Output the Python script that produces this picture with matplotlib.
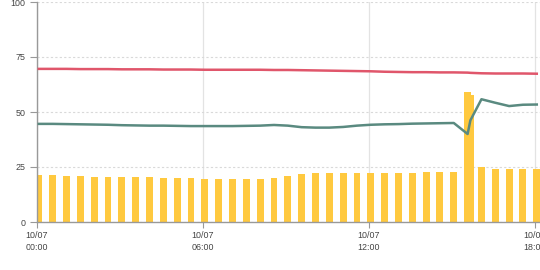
import matplotlib
matplotlib.use("Agg")
import matplotlib.pyplot as plt
import matplotlib.dates as mdates
import pandas as pd

# half-hourly samples, plus one extra reading at 15:40
times = list(pd.date_range("2023-10-07 00:04", periods=32, freq="30min"))
times += [pd.Timestamp("2023-10-07 15:40")]
times += list(pd.date_range("2023-10-07 16:04", periods=5, freq="30min"))

bar_vals = [
    21.5, 21.5, 21.1, 21.1, 20.6, 20.6, 20.3, 20.3, 20.3, 20.0, 20.0, 20.0,
    19.7, 19.7, 19.7, 19.7, 19.7, 20.1, 20.7, 21.7, 22.4, 22.4, 22.4, 22.4,
    22.4, 22.4, 22.4, 22.4, 22.8, 22.8, 22.8, 59.0, 57.7,
    24.8, 23.9, 23.9, 23.9, 23.9,
]
red_vals = [
    69.6, 69.6, 69.6, 69.5, 69.5, 69.5, 69.4, 69.4, 69.4, 69.3, 69.3, 69.3,
    69.2, 69.2, 69.2, 69.2, 69.2, 69.1, 69.1, 69.0, 68.9, 68.8, 68.7, 68.6,
    68.5, 68.3, 68.2, 68.1, 68.1, 68.0, 68.0, 67.9, 67.8,
    67.6, 67.5, 67.5, 67.5, 67.4,
]
green_vals = [
    44.6, 44.6, 44.5, 44.4, 44.3, 44.2, 44.0, 43.9, 43.8, 43.8, 43.7, 43.6,
    43.6, 43.6, 43.6, 43.7, 43.8, 44.1, 43.8, 43.1, 42.9, 42.9, 43.2, 43.8,
    44.2, 44.4, 44.5, 44.7, 44.8, 44.9, 45.0, 40.0, 46.2,
    55.8, 54.2, 52.7, 53.3, 53.4,
]
y_ticks = [0, 25, 50, 75, 100]

BAR = "#ffc93f"
RED = "#e0566b"
GREEN = "#5a8a80"
AXIS = "#999999"
LABEL = "#444444"

plt.rcParams["font.family"] = ["Liberation Sans", "DejaVu Sans"]

fig = plt.figure(figsize=(5.4, 2.7), dpi=100)
ax = fig.add_axes([37 / 540, 48 / 270, 503 / 540, 220 / 270])

# draw bars right-to-left so the 15:34 spike sits over the 15:40 one
ax.bar(times[::-1], bar_vals[::-1], width=15 / 1440, color=BAR, zorder=2)
ax.plot(times, red_vals, color=RED, lw=1.8, zorder=3, solid_joinstyle="round")
ax.plot(times, green_vals, color=GREEN, lw=1.8, zorder=3, solid_joinstyle="round")

ax.set_ylim(0, 100)
ax.set_yticks(y_ticks)
ax.set_xlim(pd.Timestamp("2023-10-07 00:00"), pd.Timestamp("2023-10-07 18:11"))
ax.xaxis.set_major_locator(mdates.HourLocator(byhour=[0, 6, 12, 18]))
ax.xaxis.set_major_formatter(mdates.DateFormatter("%m/%d\n%H:%M"))

ax.yaxis.grid(True, color="#d9d9d9", lw=0.8, ls=(0, (2, 2)), zorder=0)
ax.xaxis.grid(True, color="#e3e3e3", lw=0.9, zorder=0)
ax.set_axisbelow(True)

for s in ("top", "right"):
    ax.spines[s].set_visible(False)
for s in ("left", "bottom"):
    ax.spines[s].set_color(AXIS)
    ax.spines[s].set_linewidth(1.0)

ax.tick_params(axis="y", length=5.3, width=0.8, color=AXIS, pad=3,
               labelsize=6.4, labelcolor=LABEL)
ax.tick_params(axis="x", length=4.3, width=0.8, color=AXIS, pad=2.5,
               labelsize=6.4, labelcolor=LABEL)
for t in ax.get_xticklabels():
    t.set_linespacing(1.3)

fig.savefig("out.png", dpi=100)
